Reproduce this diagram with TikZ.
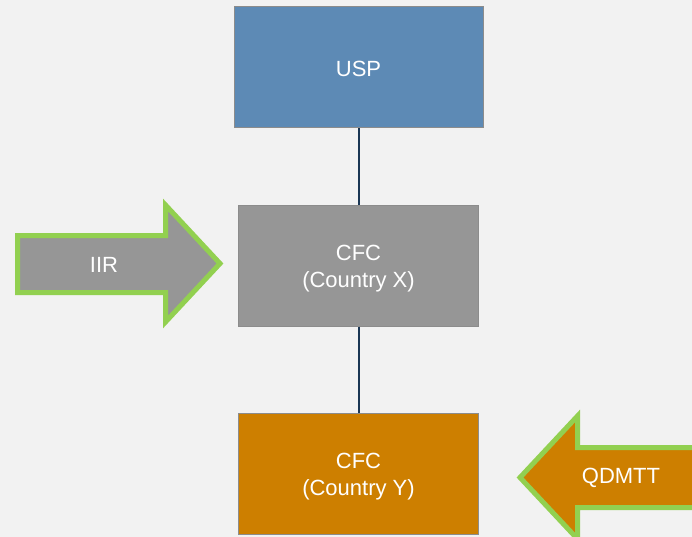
\documentclass[tikz,border=0pt]{standalone}
\usepackage{fontspec}
\setmainfont{Liberation Sans}
\definecolor{bgc}{HTML}{F2F2F2}
\definecolor{uspblue}{HTML}{5D8AB5}
\definecolor{cfcgray}{HTML}{969696}
\definecolor{cfcorange}{HTML}{CD7F00}
\definecolor{rimgreen}{HTML}{92D050}
\definecolor{edgegray}{HTML}{8C8C8C}
\definecolor{linknavy}{HTML}{1A3654}
\begin{document}
\begin{tikzpicture}[x=1pt,y=-1pt,
  entity/.style={draw=edgegray, line width=1pt, minimum width=240pt, minimum height=121pt,
    inner sep=0pt},
  entitytext/.style={text=white, align=center, inner sep=0pt,
    font=\fontsize{22}{27}\selectfont},
  link/.style={draw=linknavy, line width=2pt},
  flowarrow/.style={draw=rimgreen, line width=5pt, line join=miter},
  arrowtext/.style={text=white, font=\fontsize{22}{27}\selectfont}]
  \fill[bgc] (0,0) rectangle (692,537);
  \useasboundingbox (0,0) rectangle (692,537);

  % entities
  \node[entity, fill=uspblue, minimum width=249pt] (usp) at (358.5,67.5) {};
  \node[entity, fill=cfcgray] (cfcx) at (358.5,265.5) {};
  \node[entity, fill=cfcorange] (cfcy) at (358.5,473.5) {};
  \node[entitytext] (usplabel) at (358.5,69) {USP};
  \node[entitytext] (cfcxlabel) at (358.5,268.5) {CFC\\(Country X)};
  \node[entitytext] (cfcylabel) at (358.5,476.5) {CFC\\(Country Y)};

  % ownership links
  \draw[link] (usp.south) -- (cfcx.north);
  \draw[link] (cfcx.south) -- (cfcy.north);

  % IIR block arrow pointing right
  \fill[cfcgray] (17.5,235.5) -- (165.5,235.5) -- (165.5,205) -- (220,263.5)
    -- (165.5,322) -- (165.5,292.5) -- (17.5,292.5) -- cycle;
  \draw[flowarrow] (17.5,235.5) -- (165.5,235.5) -- (165.5,205) -- (220,263.5)
    -- (165.5,322) -- (165.5,292.5) -- (17.5,292.5) -- cycle;
  \node[arrowtext] (iir) at (104,265) {IIR};

  % QDMTT block arrow pointing left
  \fill[cfcorange] (700,447.5) -- (577.5,447.5) -- (577.5,416) -- (520,477.5)
    -- (577.5,539) -- (577.5,507.5) -- (700,507.5) -- cycle;
  \draw[flowarrow] (700,447.5) -- (577.5,447.5) -- (577.5,416) -- (520,477.5)
    -- (577.5,539) -- (577.5,507.5) -- (700,507.5) -- cycle;
  \node[arrowtext] (qdmtt) at (621,478) {QDMTT};
\end{tikzpicture}
\end{document}
